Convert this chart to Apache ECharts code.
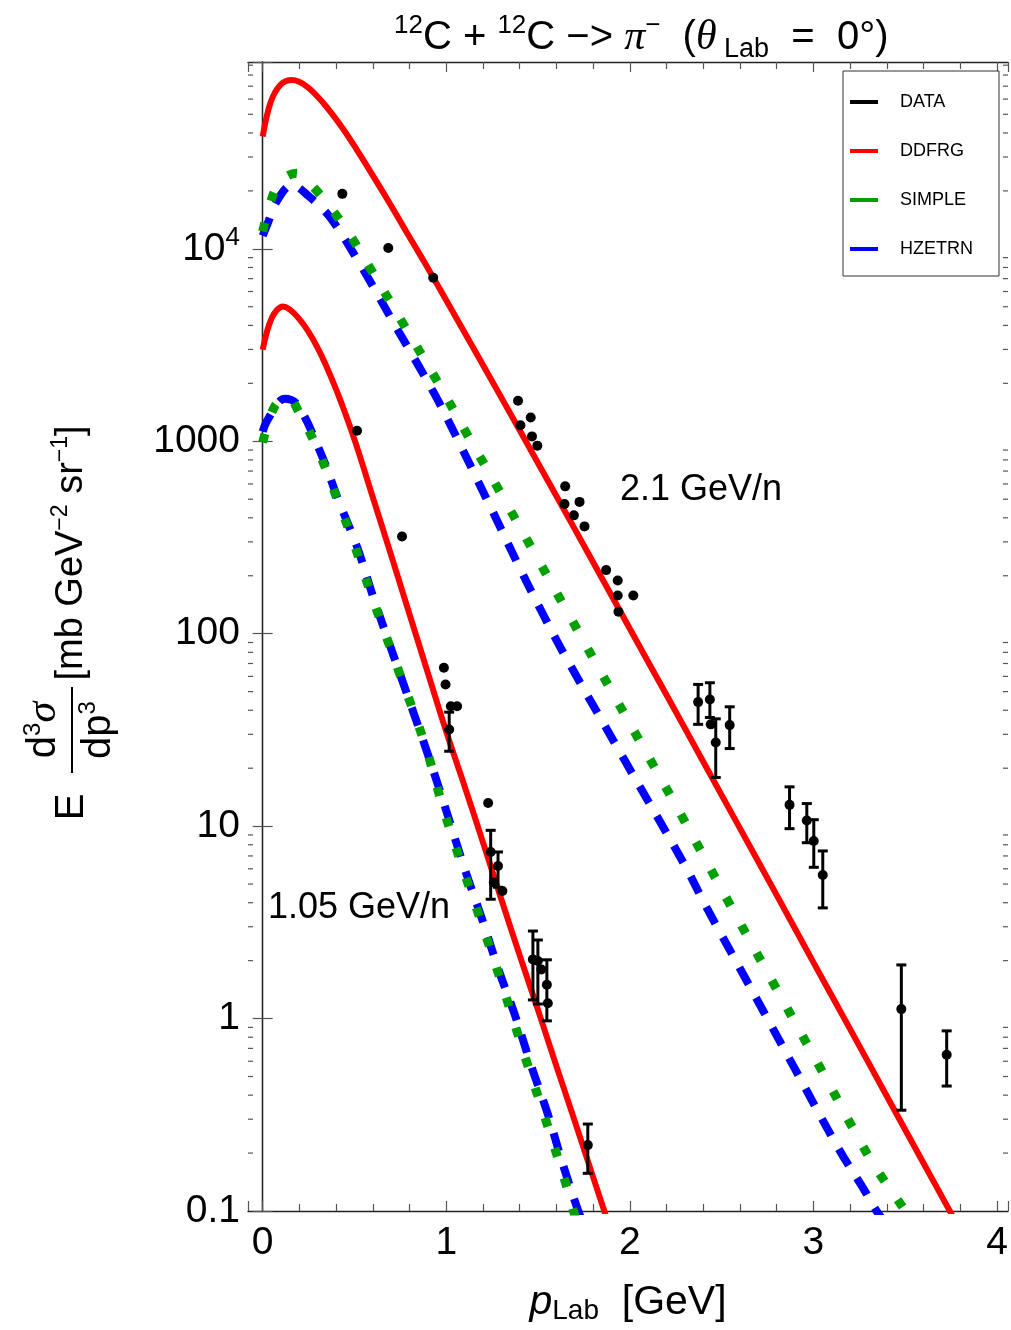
<!DOCTYPE html>
<html><head><meta charset="utf-8">
<script src="https://cdn.jsdelivr.net/npm/echarts@6/dist/echarts.min.js"></script>
<style>html,body{margin:0;padding:0;background:#fff}#c{width:1011px;height:1330px}</style>
</head><body><div id="c"></div>
<script>
// ---------- data ----------
const ddfrg21X = [0, 0.042, 0.096, 0.16, 0.241, 0.331, 0.422, 0.513, 0.603, 0.694, 0.784, 0.875, 0.965, 1.2, 1.4, 1.6, 1.8, 2.0, 2.2, 2.4, 2.6, 2.8, 3.0, 3.2, 3.4, 3.6, 3.8];
const ddfrg21Y = [38300, 57300, 71000, 75300, 69700, 57100, 44100, 32700, 23800, 17100, 12200, 8710, 6180, 2490, 1140, 519, 235, 106, 48.0, 21.6, 9.73, 4.38, 1.96, 0.881, 0.395, 0.177, 0.0796];
const ddfrg105X = [0, 0.05, 0.11, 0.2, 0.3, 0.4, 0.5, 0.6, 0.7, 0.8, 0.9, 1.0, 1.1, 1.2, 1.3, 1.4, 1.5, 1.6, 1.7, 1.8, 1.9];
const ddfrg105Y = [2990, 4385, 5010, 4310, 3050, 1860, 1020, 511, 255, 126, 62.4, 31, 16.1, 8.24, 4.17, 2.13, 1.107, 0.566, 0.293, 0.150, 0.077];
const simple21X = [0, 0.06, 0.12, 0.183, 0.274, 0.386, 0.489, 0.585, 0.77, 0.956, 1.128, 1.306, 1.483, 1.659, 1.834, 2.06, 2.278, 2.535, 2.8, 3.05, 3.319, 3.5, 3.56];
const simple21Y = [12300, 19450, 23400, 24700, 21000, 15600, 11270, 7940, 4010, 2010, 1028, 518, 260, 130, 65.2, 27.0, 11.5, 4.08, 1.42, 0.527, 0.180, 0.1, 0.079];
const hzetrn21X = [0, 0.024, 0.08, 0.16, 0.25, 0.364, 0.516, 0.73, 0.938, 1.07, 1.25, 1.391, 1.52, 1.648, 1.95, 2.296, 2.423, 2.6, 2.9, 3.138, 3.274, 3.344, 3.4];
const hzetrn21Y = [11700, 13300, 17900, 21500, 18800, 14700, 8770, 3870, 1747, 984, 437, 229, 130, 76.4, 23.9, 6.34, 3.70, 1.82, 0.546, 0.210, 0.130, 0.1, 0.085];
const simple105X = [0, 0.067, 0.14, 0.198, 0.281, 0.351, 0.415, 0.48, 0.538, 0.596, 0.74, 0.884, 0.98, 1.092, 1.21, 1.324, 1.432, 1.545, 1.653, 1.693, 1.75];
const simple105Y = [984, 1530, 1683, 1413, 991, 690, 474, 327, 226, 155, 64.3, 26.6, 12.7, 5.97, 2.80, 1.31, 0.621, 0.291, 0.137, 0.1, 0.067];
const hzetrn105X = [0, 0.027, 0.12, 0.19, 0.32, 0.411, 0.516, 0.607, 0.74, 0.875, 0.966, 1.101, 1.192, 1.287, 1.373, 1.463, 1.553, 1.635, 1.716, 1.77];
const hzetrn105Y = [1122, 1294, 1663, 1549, 851, 498, 279, 150, 64.9, 27.7, 15.2, 5.97, 3.35, 1.77, 1.05, 0.568, 0.319, 0.175, 0.102, 0.075];

const dataX = [0.434, 0.684, 0.929, 1.391, 1.460, 1.404, 1.467, 1.496, 1.648, 1.726, 1.644, 1.695, 1.753, 1.871, 1.934, 1.934, 2.019, 1.938,
  2.372, 2.436, 2.441, 2.468, 2.544, 2.870, 2.964, 3.002, 3.051, 3.479, 3.726,
  0.514, 0.759, 0.987, 0.996, 1.025, 1.059, 1.016, 1.228, 1.242, 1.282, 1.259, 1.306, 1.472, 1.499, 1.518, 1.548, 1.553, 1.771];
const dataY = [19300, 10100, 7070, 1625, 1330, 1210, 1060, 949, 583, 484, 472, 412, 361, 214, 189, 158, 158, 130,
  44.1, 45.5, 33.8, 27.2, 33.5, 12.9, 10.7, 8.37, 5.57, 1.12, 0.648,
  1135, 320, 66.5, 54.5, 42.0, 42.0, 31.8, 13.2, 7.34, 6.21, 5.09, 4.60, 2.03, 1.99, 1.80, 1.50, 1.20, 0.220];

const errX  = [2.372, 2.436, 2.468, 2.544, 2.870, 2.964, 3.002, 3.051, 3.479, 3.726, 1.016, 1.242, 1.282, 1.472, 1.499, 1.548, 1.771];
const errY  = [44.1, 45.5, 27.2, 33.5, 12.9, 10.7, 8.37, 5.57, 1.12, 0.648, 31.8, 7.34, 6.21, 2.03, 1.99, 1.50, 0.220];
const errLo = [33.8, 36.7, 17.9, 25.3, 9.7, 8.2, 6.11, 3.76, 0.334, 0.446, 24.5, 4.17, 4.81, 1.25, 1.19, 0.973, 0.157];
const errHi = [54.5, 55.6, 36.1, 41.7, 16.0, 13.1, 10.8, 7.43, 1.90, 0.863, 39.1, 9.51, 7.34, 2.85, 2.56, 2.02, 0.283];

const xTickLabels = ['0', '1', '2', '3', '4'];
const yTickLabels = ['0.1', '1', '10', '100', '1000', '{b|10}{s|4}'];
const yMinorTicks = [0.2, 0.3, 0.4, 0.5, 0.6, 0.7, 0.8, 0.9, 2, 3, 4, 5, 6, 7, 8, 9, 20, 30, 40, 50, 60, 70, 80, 90,
  200, 300, 400, 500, 600, 700, 800, 900, 2000, 3000, 4000, 5000, 6000, 7000, 8000, 9000,
  20000, 30000, 40000, 50000, 60000, 70000, 80000, 90000];
const legendNames = ['DATA', 'DDFRG', 'SIMPLE', 'HZETRN'];

// ---------- chart ----------
const FONT = '"Liberation Sans", Arial, sans-serif';
const SERIF = '"Liberation Serif", "Times New Roman", serif';
const RED = '#ff0000', GREEN = '#00a000', BLUE = '#0000ff';
const XMIN = -0.08, XMAX = 4.06, YMIN = 0.1, YMAX = 93500;
const zip = (xs, ys) => xs.map((x, i) => [x, ys[i]]);

const frameLine = { show: true, lineStyle: { color: '#222', width: 1.3 } };
const tickStyle = { color: '#555', width: 1.2 };

function xLabel(v) {
  const r = Math.round(v);
  if (Math.abs(v - r) > 1e-6) return '';
  return xTickLabels[r] !== undefined ? xTickLabels[r] : '';
}
function yLabel(v) {
  const e = Math.log10(v), r = Math.round(e);
  if (Math.abs(e - r) > 0.01) return '';
  const s = yTickLabels[r + 1];
  return s === undefined ? '' : s;
}

const chart = echarts.init(document.getElementById('c'), null, { renderer: 'canvas' });

const lineBase = { type: 'line', showSymbol: false, symbol: 'none', smooth: 0.35, clip: true, silent: true };

chart.setOption({
  animation: false,
  backgroundColor: '#fff',
  title: {
    left: 389, top: 8,
    text: '{s|12}{m|C + }{s|12}{m|C −> }{g|π}{s|−}{m|  (}{g|θ}{b| Lab}{m|  =  0°)}',
    textStyle: {
      fontWeight: 'normal',
      rich: {
        m: { fontSize: 40, fontFamily: FONT, fontWeight: 'normal', color: '#000', lineHeight: 50 },
        s: { fontSize: 26, fontFamily: FONT, fontWeight: 'normal', color: '#000', verticalAlign: 'top', lineHeight: 26 },
        g: { fontSize: 42, fontFamily: SERIF, fontStyle: 'italic', fontWeight: 'normal', color: '#000', lineHeight: 50 },
        b: { fontSize: 27, fontFamily: FONT, fontWeight: 'normal', color: '#000', verticalAlign: 'bottom', lineHeight: 27 }
      }
    }
  },
  grid: { left: 248, right: 1, top: 62, bottom: 118, containLabel: false },
  legend: {
    orient: 'vertical', left: 843, top: 71,
    padding: [21, 26, 17, 7],
    itemWidth: 28, itemHeight: 4, itemGap: 29,
    backgroundColor: '#fff', borderColor: '#333', borderWidth: 1, borderRadius: 0,
    textStyle: { fontSize: 18, fontFamily: FONT, color: '#000', lineHeight: 20, padding: [0, 0, 0, 17] },
    data: [
      { name: legendNames[0], icon: 'rect', itemStyle: { color: '#000', borderWidth: 0 } },
      { name: legendNames[1], icon: 'rect', itemStyle: { color: RED, borderWidth: 0 } },
      { name: legendNames[2], icon: 'rect', itemStyle: { color: GREEN, borderWidth: 0 } },
      { name: legendNames[3], icon: 'rect', itemStyle: { color: BLUE, borderWidth: 0 } }
    ]
  },
  xAxis: [
    {
      type: 'value', position: 'bottom', min: XMIN, max: XMAX, splitNumber: 4,
      axisLine: frameLine,
      axisTick: { show: true, inside: true, length: 10, lineStyle: tickStyle },
      minorTick: { show: true, splitNumber: 5, length: 7, lineStyle: tickStyle },
      splitLine: { show: false }, minorSplitLine: { show: false },
      axisLabel: { fontSize: 39, fontFamily: FONT, color: '#000', margin: 13, formatter: xLabel, showMinLabel: true, showMaxLabel: true },
      name: '{p|p}{s|Lab}{m|  [GeV]}', nameLocation: 'middle', nameGap: 70,
      nameTextStyle: {
        rich: {
          p: { fontSize: 41, fontFamily: FONT, fontStyle: 'italic', color: '#000', lineHeight: 44 },
          s: { fontSize: 28, fontFamily: FONT, color: '#000', verticalAlign: 'bottom', lineHeight: 26 },
          m: { fontSize: 41, fontFamily: FONT, color: '#000', lineHeight: 44 }
        }
      }
    },
    {
      type: 'value', position: 'top', min: XMIN, max: XMAX, splitNumber: 4,
      axisLine: frameLine,
      axisTick: { show: true, inside: true, length: 10, lineStyle: tickStyle },
      minorTick: { show: true, splitNumber: 5, length: 7, lineStyle: tickStyle },
      splitLine: { show: false }, minorSplitLine: { show: false },
      axisLabel: { show: false }
    }
  ],
  yAxis: [
    {
      type: 'log', logBase: 10, position: 'left', min: YMIN, max: YMAX,
      axisLine: frameLine,
      axisTick: { show: true, inside: true, length: 10, lineStyle: tickStyle },
      splitLine: { show: false },
      axisLabel: {
        fontSize: 39, fontFamily: FONT, color: '#000', margin: 8, formatter: yLabel,
        rich: {
          b: { fontSize: 39, fontFamily: FONT, color: '#000', lineHeight: 48 },
          s: { fontSize: 26, fontFamily: FONT, color: '#000', verticalAlign: 'top', lineHeight: 26 }
        }
      }
    },
    {
      type: 'log', logBase: 10, position: 'right', min: YMIN, max: YMAX,
      axisLine: frameLine,
      axisTick: { show: true, inside: true, length: 10, lineStyle: tickStyle },
      splitLine: { show: false },
      axisLabel: { show: false }
    }
  ],
  graphic: [
    {
      type: 'group', x: 72, y: 625, rotation: Math.PI / 2, silent: true,
      children: [
        { type: 'text', x: -182, y: 0, style: { text: 'E', font: '40px ' + FONT, fill: '#000', align: 'center', verticalAlign: 'middle' } },
        { type: 'text', x: -105, y: -28, style: {
            text: '{d|d}{s|3}{g|σ}', align: 'center', verticalAlign: 'middle',
            rich: {
              d: { fontSize: 40, fontFamily: FONT, fill: '#000', lineHeight: 46 },
              s: { fontSize: 24, fontFamily: FONT, fill: '#000', verticalAlign: 'top', lineHeight: 24 },
              g: { fontSize: 42, fontFamily: SERIF, fontStyle: 'italic', fill: '#000', lineHeight: 46 }
            } } },
        { type: 'line', shape: { x1: -148, y1: 0, x2: -62, y2: 0 }, style: { stroke: '#000', lineWidth: 2 } },
        { type: 'text', x: -105, y: 27, style: {
            text: '{d|dp}{s|3}', align: 'center', verticalAlign: 'middle',
            rich: {
              d: { fontSize: 40, fontFamily: FONT, fill: '#000', lineHeight: 46 },
              s: { fontSize: 24, fontFamily: FONT, fill: '#000', verticalAlign: 'top', lineHeight: 24 }
            } } },
        { type: 'text', x: 72, y: 0, style: {
            text: '{m|[mb GeV}{s|−2}{m| sr}{s|−1}{m|]}', align: 'center', verticalAlign: 'middle',
            rich: {
              m: { fontSize: 38, fontFamily: FONT, fill: '#000', lineHeight: 46 },
              s: { fontSize: 23, fontFamily: FONT, fill: '#000', verticalAlign: 'top', lineHeight: 23 }
            } } }
      ]
    },
    { type: 'text', x: 620, y: 490, silent: true, style: { text: '2.1 GeV/n', font: '36px ' + FONT, fill: '#000', verticalAlign: 'middle' } },
    { type: 'text', x: 268, y: 908, silent: true, style: { text: '1.05 GeV/n', font: '36px ' + FONT, fill: '#000', verticalAlign: 'middle' } }
  ],
  series: [
    {
      type: 'custom', silent: true, xAxisIndex: 0, yAxisIndex: 0, z: 1,
      data: yMinorTicks.map(v => [0, v]),
      renderItem(params, api) {
        const y = api.coord([0, api.value(1)])[1];
        const cs = params.coordSys;
        return { type: 'group', children: [
          { type: 'line', shape: { x1: cs.x, y1: y, x2: cs.x + 5, y2: y }, style: { stroke: '#555', lineWidth: 1.2 } },
          { type: 'line', shape: { x1: cs.x + cs.width - 5, y1: y, x2: cs.x + cs.width, y2: y }, style: { stroke: '#555', lineWidth: 1.2 } }
        ] };
      }
    },
    Object.assign({}, lineBase, { name: 'HZETRN', z: 2, data: zip(hzetrn21X, hzetrn21Y), color: BLUE,
      lineStyle: { color: BLUE, width: 8, type: [19, 15.5], cap: 'butt' } }),
    Object.assign({}, lineBase, { name: 'HZETRN', z: 2, data: zip(hzetrn105X, hzetrn105Y), color: BLUE,
      lineStyle: { color: BLUE, width: 8, type: [19, 15.5], cap: 'butt' } }),
    Object.assign({}, lineBase, { name: 'SIMPLE', z: 3, data: zip(simple21X, simple21Y), color: GREEN,
      lineStyle: { color: GREEN, width: 9, type: [9, 22.6], cap: 'butt' } }),
    Object.assign({}, lineBase, { name: 'SIMPLE', z: 3, data: zip(simple105X, simple105Y), color: GREEN,
      lineStyle: { color: GREEN, width: 9, type: [9, 22.6], cap: 'butt' } }),
    Object.assign({}, lineBase, { name: 'DDFRG', z: 4, data: zip(ddfrg21X, ddfrg21Y), color: RED,
      lineStyle: { color: RED, width: 6, type: 'solid' } }),
    Object.assign({}, lineBase, { name: 'DDFRG', z: 4, data: zip(ddfrg105X, ddfrg105Y), color: RED,
      lineStyle: { color: RED, width: 6, type: 'solid' } }),
    {
      type: 'custom', name: 'DATA', z: 5, silent: true, color: '#000',
      data: errX.map((x, i) => [x, errY[i], errLo[i], errHi[i]]),
      encode: { x: 0, y: [1, 2, 3] },
      renderItem(params, api) {
        const x = api.value(0);
        const top = api.coord([x, api.value(3)]);
        const bot = api.coord([x, api.value(2)]);
        const w = 5, st = { stroke: '#000', lineWidth: 3 };
        return { type: 'group', children: [
          { type: 'line', shape: { x1: top[0], y1: top[1], x2: bot[0], y2: bot[1] }, style: st },
          { type: 'line', shape: { x1: top[0] - w, y1: top[1], x2: top[0] + w, y2: top[1] }, style: st },
          { type: 'line', shape: { x1: bot[0] - w, y1: bot[1], x2: bot[0] + w, y2: bot[1] }, style: st }
        ] };
      }
    },
    {
      type: 'scatter', name: 'DATA', z: 6, silent: true, symbol: 'circle', symbolSize: 10,
      itemStyle: { color: '#000', opacity: 1 }, color: '#000',
      data: zip(dataX, dataY)
    }
  ]
});
</script>
</body></html>
